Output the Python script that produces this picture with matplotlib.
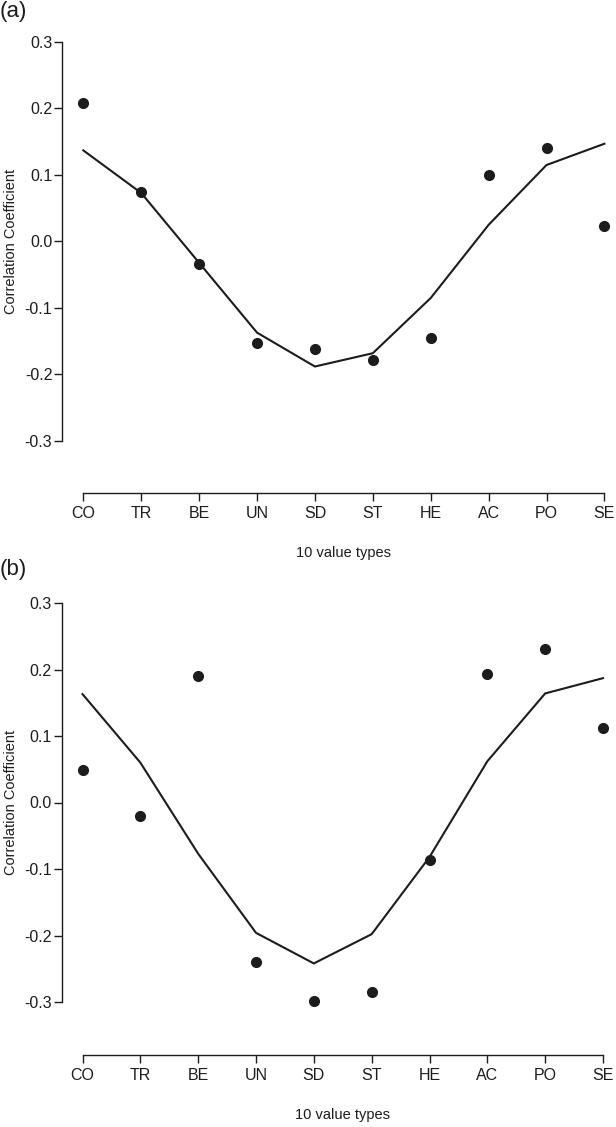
"""
Correlation coefficients of the 10 value types, with fitted curve, panels (a) and (b).
"""

import matplotlib

matplotlib.use("Agg")

import matplotlib.pyplot as plt
import numpy as np

plt.rcParams["font.family"] = ["Liberation Sans", "DejaVu Sans"]
plt.rcParams["axes.unicode_minus"] = False

value_types = ["CO", "TR", "BE", "UN", "SD", "ST", "HE", "AC", "PO", "SE"]
y_ticks = [-0.3, -0.2, -0.1, 0.0, 0.1, 0.2, 0.3]

# Panel (a)
points_a = [0.209, 0.074, -0.034, -0.152, -0.161, -0.178, -0.145, 0.100, 0.140, 0.024]
curve_a = [0.137, 0.073, -0.032, -0.137, -0.188, -0.168, -0.085, 0.025, 0.115, 0.147]

# Panel (b)
points_b = [0.049, -0.020, 0.190, -0.240, -0.299, -0.285, -0.087, 0.193, 0.231, 0.112]
curve_b = [0.163, 0.060, -0.077, -0.196, -0.242, -0.198, -0.082, 0.062, 0.164, 0.187]

FIG_W, FIG_H, DPI = 616, 1127, 100
INK = "#1c1c1c"


def add_panel(fig, points, curve, label, spine_x, first_px, last_px, top_px, axis_px, label_px):
    """
    Draw one panel in R base-graphics style.

    Pixel arguments give the left spine, first/last category tick, the 0.3 tick,
    the x-axis line and the top of the panel letter (all in figure pixels).
    """
    step = (last_px - first_px) / (len(value_types) - 1)
    right_px = 612
    x_lo = -(first_px - spine_x) / step
    x_hi = (right_px - first_px) / step

    per_unit = 665.0  # pixels per 1.0 of correlation
    y_hi = 0.31
    y_lo = 0.3 - (axis_px - top_px) / per_unit
    ax_top = top_px - (y_hi - 0.3) * per_unit
    height = axis_px - ax_top

    ax = fig.add_axes(
        [
            spine_x / FIG_W,
            1 - axis_px / FIG_H,
            (right_px - spine_x) / FIG_W,
            height / FIG_H,
        ]
    )
    ax.set_xlim(x_lo, x_hi)
    ax.set_ylim(y_lo, y_hi)

    x = np.arange(len(value_types))
    ax.plot(x, curve, color=INK, lw=1.5, solid_joinstyle="miter", zorder=2)
    ax.plot(x, points, "o", color=INK, ms=7, zorder=3)

    # R-like detached axes.
    for side in ("top", "right"):
        ax.spines[side].set_visible(False)
    ax.spines["left"].set_bounds(-0.3, 0.3)
    ax.spines["bottom"].set_bounds(0, len(value_types) - 1)
    for side in ("left", "bottom"):
        ax.spines[side].set_linewidth(1.0)
        ax.spines[side].set_color(INK)

    ax.set_xticks(x)
    ax.set_xticklabels(value_types)
    ax.set_yticks(y_ticks)
    ax.set_yticklabels([f"{t:.1f}" for t in y_ticks])
    ax.tick_params(axis="both", colors=INK, width=1.0, length=5.5, labelsize=11.5)
    ax.tick_params(axis="x", pad=3.5)
    ax.tick_params(axis="y", pad=1.5)

    ax.set_xlabel("10 value types", fontsize=10.5, color=INK)
    ax.xaxis.set_label_coords((4.5 - x_lo) / (x_hi - x_lo), -53 / height)
    ax.set_ylabel("Correlation Coefficient", fontsize=10.5, color=INK)
    ax.yaxis.set_label_coords(
        -(spine_x - 11) / (right_px - spine_x), (0 - y_lo) / (y_hi - y_lo)
    )
    ax.yaxis.label.set_va("center")

    fig.text(0, 1 - label_px / FIG_H, label, fontsize=16, color=INK, ha="left", va="top")
    return ax


fig = plt.figure(figsize=(FIG_W / DPI, FIG_H / DPI), dpi=DPI)

add_panel(fig, points_a, curve_a, "(a)", 62, 83.3, 604.4, 42, 493.3, 1)
add_panel(fig, points_b, curve_b, "(b)", 61.5, 82.5, 603, 603, 1055, 559)

fig.savefig("out.png", dpi=DPI, facecolor="white")
